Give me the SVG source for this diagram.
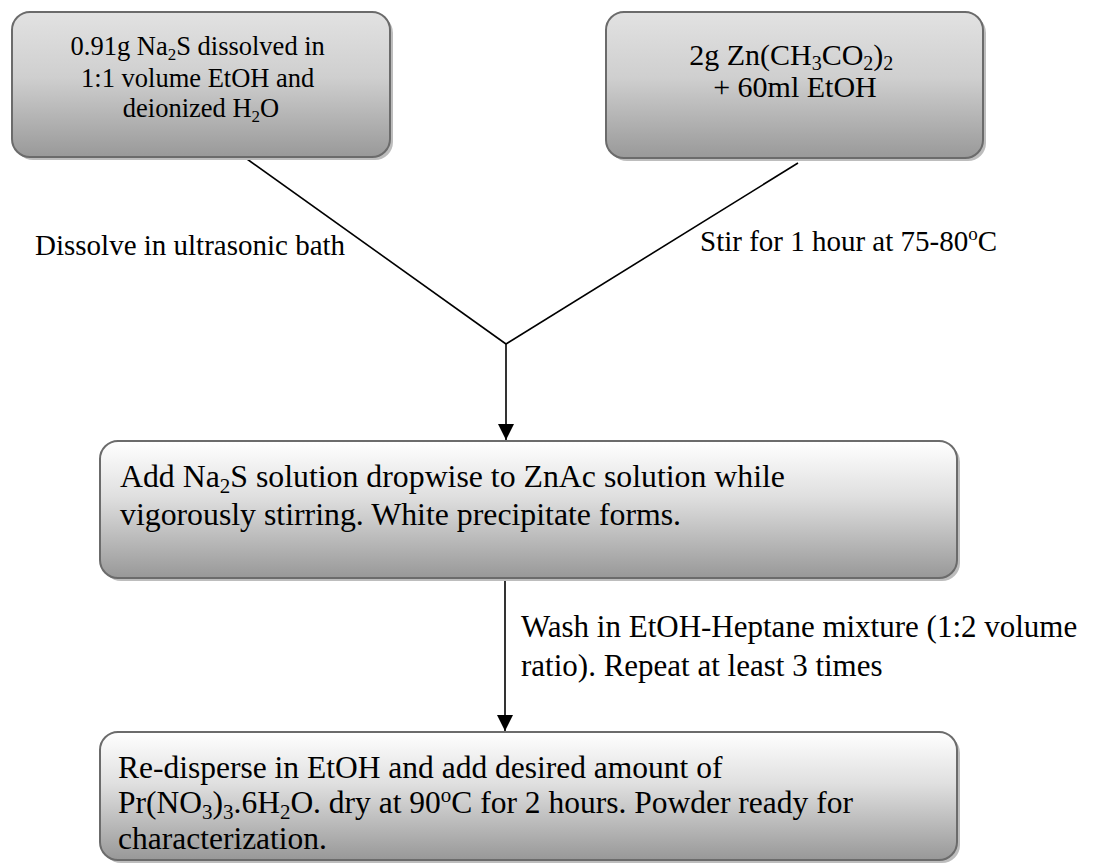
<svg xmlns="http://www.w3.org/2000/svg" width="1105" height="865" viewBox="0 0 1105 865" font-family="'Liberation Serif', 'Times New Roman', serif">
  <defs>
    <linearGradient id="gradTop" x1="0" y1="0" x2="0" y2="1">
      <stop offset="0" stop-color="#e2e2e2"/>
      <stop offset="0.45" stop-color="#cfcfcf"/>
      <stop offset="1" stop-color="#999999"/>
    </linearGradient>
    <linearGradient id="gradLow" x1="0" y1="0" x2="0" y2="1">
      <stop offset="0" stop-color="#ffffff"/>
      <stop offset="0.4" stop-color="#e0e0e0"/>
      <stop offset="1" stop-color="#989898"/>
    </linearGradient>
    <marker id="arrow" viewBox="0 0 16 16" refX="16" refY="8" markerWidth="16" markerHeight="16" markerUnits="userSpaceOnUse" orient="auto">
      <path d="M0,0 L16,8 L0,16 Z" fill="#000"/>
    </marker>
    <style>
      .box { stroke: #6b6b6b; stroke-width: 2; }
      .shadow { fill: #bdbdbd; }
      .txt { font-family: "Liberation Serif", "Times New Roman", serif; fill: #000; }
      .conn { stroke: #000; stroke-width: 1.6; fill: none; }
    </style>
  </defs>

  <!-- connectors -->
  <g id="connectors">
    <line class="conn" x1="247" y1="159" x2="506" y2="344"/>
    <line class="conn" x1="798" y1="163" x2="506" y2="344"/>
    <line class="conn" x1="506" y1="344" x2="506" y2="440" marker-end="url(#arrow)"/>
    <line class="conn" x1="505" y1="579" x2="505" y2="731" marker-end="url(#arrow)"/>
  </g>

  <!-- starting material: sodium sulfide -->
  <g id="node-na2s">
    <rect class="shadow" x="15" y="15" width="378" height="145" rx="18"/>
    <rect class="box" x="12" y="12" width="378" height="145" rx="18" fill="url(#gradTop)"/>
    <text class="txt" font-size="26.5" text-anchor="middle">
      <tspan x="201" y="55">0.91g Na<tspan font-size="17" dy="5">2</tspan><tspan dy="-5">S dissolved in</tspan></tspan>
      <tspan x="201" y="87">1:1 volume EtOH and</tspan>
      <tspan x="201" y="117">deionized H<tspan font-size="17" dy="5">2</tspan><tspan dy="-5">O</tspan></tspan>
    </text>
  </g>

  <!-- starting material: zinc acetate -->
  <g id="node-znac">
    <rect class="shadow" x="609" y="15" width="377" height="146" rx="18"/>
    <rect class="box" x="606" y="12" width="377" height="146" rx="18" fill="url(#gradTop)"/>
    <text class="txt" font-size="30" text-anchor="middle">
      <tspan x="795" y="65">2g Zn(CH<tspan font-size="20" dy="5">3</tspan><tspan dy="-5">CO</tspan><tspan font-size="20" dy="5">2</tspan><tspan dy="-5">)</tspan><tspan font-size="20" dy="5">2</tspan></tspan>
      <tspan x="795" y="97">+ 60ml EtOH</tspan>
    </text>
  </g>

  <!-- edge labels -->
  <g id="labels">
    <text class="txt" font-size="29" x="35" y="255">Dissolve in ultrasonic bath</text>
    <text class="txt" font-size="29" x="700" y="251">Stir for 1 hour at 75-80<tspan font-size="19" dy="-11">o</tspan><tspan dy="11">C</tspan></text>
    <text class="txt" font-size="31">
      <tspan x="521" y="637">Wash in EtOH-Heptane mixture (1:2 volume</tspan>
      <tspan x="521" y="676">ratio). Repeat at least 3 times</tspan>
    </text>
  </g>

  <!-- precipitation step -->
  <g id="node-precipitate">
    <rect class="shadow" x="103" y="444" width="857" height="137" rx="18"/>
    <rect class="box" x="100" y="441" width="857" height="137" rx="18" fill="url(#gradLow)"/>
    <text class="txt" font-size="31.8">
      <tspan x="120" y="487">Add Na<tspan font-size="21" dy="6">2</tspan><tspan dy="-6">S solution dropwise to ZnAc solution while</tspan></tspan>
      <tspan x="120" y="525">vigorously stirring. White precipitate forms.</tspan>
    </text>
  </g>

  <!-- doping and drying step -->
  <g id="node-final">
    <rect class="shadow" x="103" y="735" width="857" height="128" rx="18"/>
    <rect class="box" x="100" y="732" width="857" height="128" rx="18" fill="url(#gradLow)"/>
    <text class="txt" font-size="31.5">
      <tspan x="118" y="778">Re-disperse in EtOH and add desired amount of</tspan>
      <tspan x="118" y="813">Pr(NO<tspan font-size="21" dy="6">3</tspan><tspan dy="-6">)</tspan><tspan font-size="21" dy="6">3</tspan><tspan dy="-6">.6H</tspan><tspan font-size="21" dy="6">2</tspan><tspan dy="-6">O. dry at 90</tspan><tspan font-size="21" dy="-11">o</tspan><tspan dy="11">C for 2 hours. Powder ready for</tspan></tspan>
      <tspan x="118" y="849">characterization.</tspan>
    </text>
  </g>
</svg>
